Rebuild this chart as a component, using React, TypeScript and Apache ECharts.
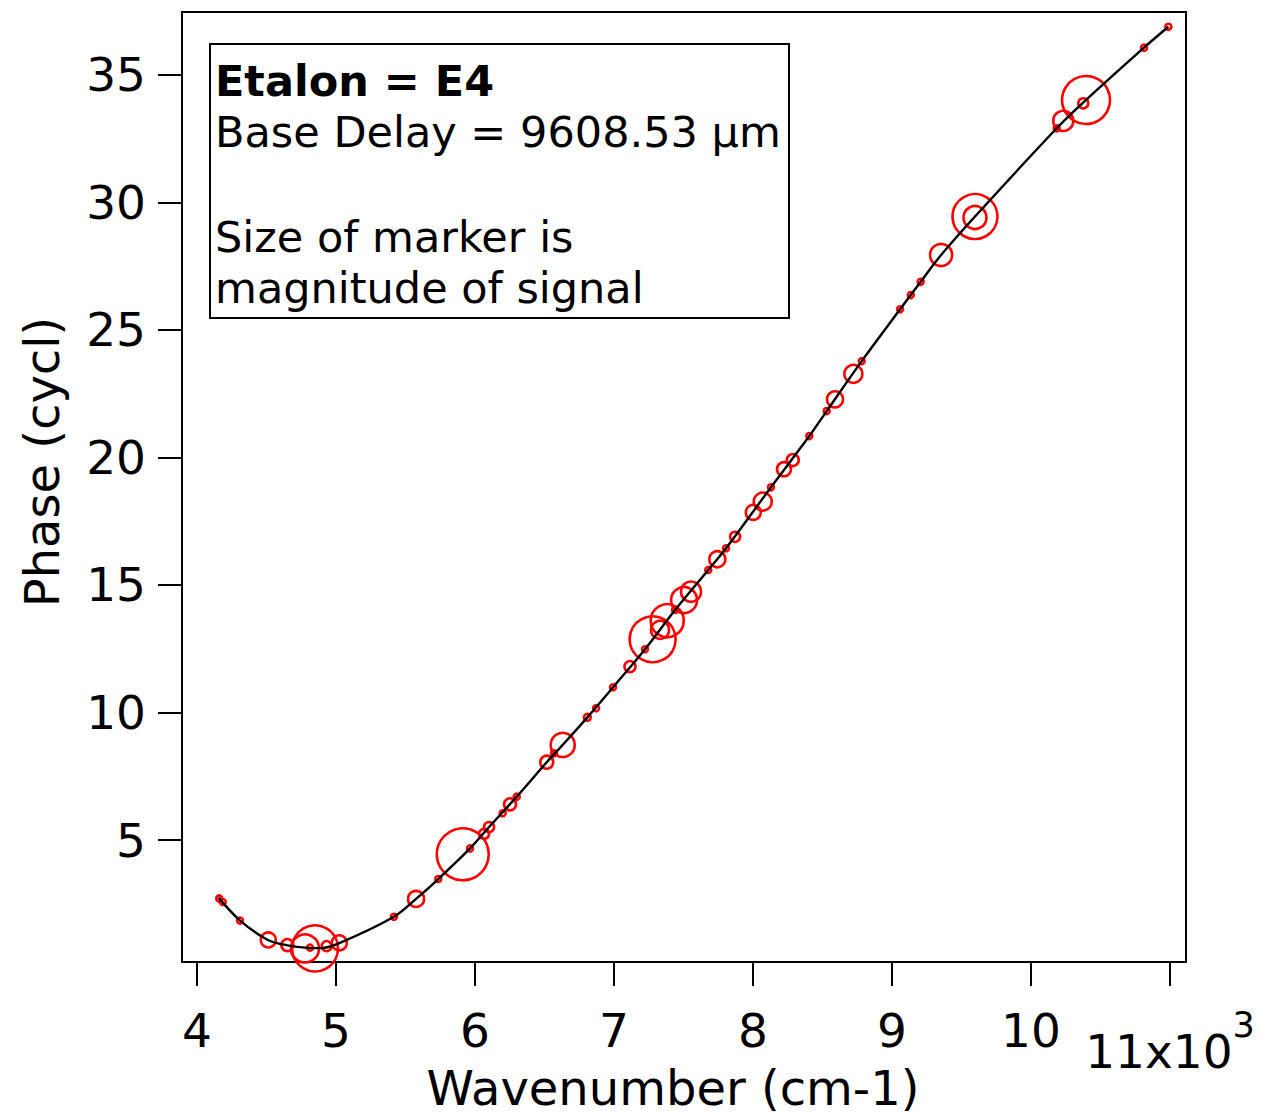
import React, { useEffect, useRef } from 'react';
import * as echarts from 'echarts';

// Fitted phase curve (wavenumber in cm-1, phase in cycles)
const curveX = [4155, 4310, 4510, 4650, 4800, 4880, 5020, 5417, 5576, 5736, 5964, 6101, 6300, 6516, 6631, 6808, 6993, 7223, 7439, 7678, 7806, 8129, 8405, 8530, 8782, 9058, 9206, 9353, 9597, 10185, 10396, 10813, 10988];
const curveY = [2.74, 1.84, 1.08, 0.87, 0.77, 0.76, 0.95, 1.99, 2.69, 3.47, 4.67, 5.51, 6.70, 8.05, 8.73, 9.81, 10.99, 12.48, 14.02, 15.59, 16.44, 18.83, 20.84, 21.82, 23.78, 25.81, 26.89, 27.94, 29.45, 32.91, 34.02, 36.07, 36.89];

// Measured points: wavenumber, phase, marker size (signal magnitude)
const markerX = [4160, 4185, 4309, 4513, 4650, 4777, 4849, 4813, 4933, 5024, 5417, 5576, 5736, 5912, 5964, 6065, 6101, 6199, 6252, 6300, 6516, 6568, 6631, 6808, 6871, 6993, 7115, 7223, 7278, 7331, 7383, 7439, 7504, 7554, 7678, 7743, 7806, 7871, 8002, 8070, 8129, 8223, 8286, 8405, 8530, 8590, 8722, 8782, 9058, 9135, 9206, 9353, 9597, 9597, 10185, 10232, 10376, 10396, 10813, 10988];
const markerY = [2.71, 2.57, 1.84, 1.08, 0.88, 0.75, 0.75, 0.78, 0.84, 0.97, 1.99, 2.69, 3.47, 4.44, 4.67, 5.24, 5.51, 6.05, 6.40, 6.70, 8.05, 8.40, 8.73, 9.81, 10.17, 10.99, 11.80, 12.48, 12.87, 13.24, 13.60, 14.02, 14.41, 14.74, 15.59, 16.01, 16.44, 16.89, 17.85, 18.27, 18.83, 19.54, 19.90, 20.84, 21.82, 22.28, 23.28, 23.78, 25.81, 26.37, 26.89, 27.94, 29.45, 29.41, 32.91, 33.20, 33.89, 34.02, 36.07, 36.89];
const markerSize = [6, 6, 6, 15, 12, 28, 46, 6, 10, 15, 6, 16, 6, 52, 6, 10, 10, 6, 12, 6, 13, 6, 24, 7, 6, 6, 11, 6, 46, 18, 33, 6, 26, 20, 6, 16, 6, 10, 15, 18, 6, 14, 12, 6, 6, 16, 18, 6, 6, 6, 6, 22, 45, 23, 6, 20, 10, 48, 6, 6];

const xTicks = [4000, 5000, 6000, 7000, 8000, 9000, 10000, 11000];
const yTicks = [5, 10, 15, 20, 25, 30, 35];

const legendTitle = 'Etalon = E4';
const legendLines = ['Base Delay = 9608.53 µm', '', 'Size of marker is', 'magnitude of signal'];

const FONT = 'DejaVu Sans';

export default function App() {
  const ref = useRef<HTMLDivElement>(null);

  useEffect(() => {
    document.body.style.margin = '0';
    if (!ref.current) return;
    const chart = echarts.init(ref.current, null, { renderer: 'svg' });

    const lineData = curveX.map((x, i) => [x, curveY[i]]);
    const scatterData = markerX.map((x, i) => [x, markerY[i], markerSize[i]]);

    const legendTexts: any[] = [
      {
        type: 'text',
        x: 215,
        y: 81,
        style: { text: legendTitle, font: `bold 43px "${FONT}"`, fill: '#000', verticalAlign: 'middle', align: 'left' },
      },
    ];
    const lineCenters = [131.5, 184, 236.5, 288];
    legendLines.forEach((t, i) => {
      if (!t) return;
      legendTexts.push({
        type: 'text',
        x: 215,
        y: lineCenters[i],
        style: { text: t, font: `43px "${FONT}"`, fill: '#000', verticalAlign: 'middle', align: 'left' },
      });
    });

    const option: any = {
      animation: false,
      backgroundColor: '#fff',
      grid: {
        left: 182,
        right: 75,
        top: 12,
        bottom: 157,
        show: true,
        borderColor: '#000',
        borderWidth: 2,
        containLabel: false,
        outerBoundsMode: 'none',
      },
      xAxis: {
        type: 'value',
        min: 3892,
        max: 11115,
        name: 'Wavenumber (cm-1)',
        nameLocation: 'middle',
        nameGap: 102,
        nameMoveOverlap: false,
        nameTextStyle: { fontFamily: FONT, fontSize: 48, color: '#000', lineHeight: 48, padding: [0, 22, 0, 0] },
        axisLine: { show: true, onZero: false, lineStyle: { color: '#000', width: 2 } },
        axisTick: { show: true, inside: false, length: 24, lineStyle: { color: '#000', width: 2 }, customValues: xTicks },
        axisLabel: {
          customValues: xTicks,
          margin: 45,
          fontFamily: FONT,
          fontSize: 47,
          color: '#000',
          formatter: (v: number) => (v === 11000 ? '{a|11x10}{b|3}' : String(v / 1000)),
          rich: {
            a: { fontFamily: FONT, fontSize: 47, color: '#000', lineHeight: 88 },
            b: { fontFamily: FONT, fontSize: 35, color: '#000', lineHeight: 28, verticalAlign: 'top' },
          },
        },
        splitLine: { show: false },
      },
      yAxis: {
        type: 'value',
        min: 0.216,
        max: 37.47,
        name: 'Phase (cycl)',
        nameLocation: 'middle',
        nameGap: 116,
        nameMoveOverlap: false,
        nameTextStyle: { fontFamily: FONT, fontSize: 48, color: '#000', padding: [0, 0, 0, 50] },
        axisLine: { show: true, onZero: false, lineStyle: { color: '#000', width: 2 } },
        axisTick: { show: true, inside: false, length: 24, lineStyle: { color: '#000', width: 2 }, customValues: yTicks },
        axisLabel: {
          customValues: yTicks,
          margin: 36,
          fontFamily: FONT,
          fontSize: 47,
          color: '#000',
        },
        splitLine: { show: false },
      },
      graphic: [
        {
          type: 'rect',
          shape: { x: 210, y: 44, width: 579, height: 274 },
          style: { fill: '#fff', stroke: '#000', lineWidth: 2 },
          z: 10,
        },
        ...legendTexts.map((t) => ({ ...t, z: 11 })),
      ],
      series: [
        {
          type: 'scatter',
          data: scatterData,
          symbol: 'circle',
          symbolSize: (v: number[]) => v[2],
          itemStyle: { color: 'rgba(0,0,0,0)', borderColor: '#ff0000', borderWidth: 2.6, opacity: 1 },
          silent: true,
          z: 2,
        },
        {
          type: 'line',
          data: lineData,
          smooth: 0.35,
          showSymbol: false,
          symbol: 'none',
          lineStyle: { color: '#000', width: 2.4 },
          silent: true,
          z: 3,
        },
      ],
    };

    chart.setOption(option);
    return () => chart.dispose();
  }, []);

  return <div ref={ref} style={{ width: 1261, height: 1119 }} />;
}
